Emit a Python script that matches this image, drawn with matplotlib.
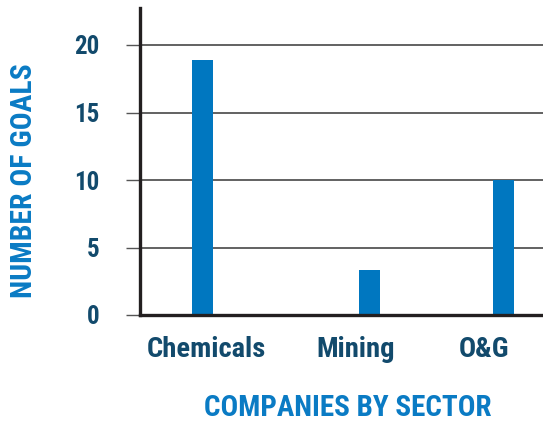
import matplotlib
matplotlib.use("Agg")
import matplotlib.pyplot as plt

# goals per sector
sectors = ["Chemicals", "Mining", "O&G"]
goals = [18.9, 3.3, 10]
yticks = [0, 5, 10, 15, 20]

plt.rcParams["font.family"] = ["Roboto Condensed", "Archivo Narrow", "DejaVu Sans"]

bar_blue = "#0077c0"
label_blue = "#0a7bc4"
tick_navy = "#124a6c"

# bars sit at uneven spots along the axis, labels slightly off-centre
bar_x = [0.625, 2.295, 3.635]
label_x = [0.66, 2.155, 3.443]

fig = plt.figure(figsize=(5.43, 4.24), dpi=100)
ax = fig.add_axes([140 / 543, 109 / 424, 403 / 543, 307 / 424])

ax.bar(bar_x, goals, width=0.21, color=bar_blue, zorder=3)

ax.set_xlim(0, 4.03)
ax.set_ylim(0, 307 / 13.5)
ax.set_yticks(yticks)
ax.yaxis.grid(True, color="#555555", linewidth=1.3, zorder=1)
ax.tick_params(axis="y", length=10, width=1.0, color="#555555", pad=19,
               labelsize=18, labelcolor=tick_navy)
for t in ax.get_yticklabels():
    t.set_fontweight("bold")

ax.set_xticks(label_x)
ax.set_xticklabels(sectors, fontsize=20.5, fontweight="bold", color=tick_navy)
ax.tick_params(axis="x", length=0, pad=15)

for side in ["top", "right"]:
    ax.spines[side].set_visible(False)
for side in ["left", "bottom"]:
    ax.spines[side].set_color("#231f20")
    ax.spines[side].set_linewidth(2.4)
    ax.spines[side].set_zorder(4)

fig.text(24 / 543, 1 - 181 / 424, "NUMBER OF GOALS", rotation=90, ha="center",
         va="center", fontsize=21.3, fontweight="bold", color=label_blue)
fig.text(348 / 543, 1 - 408 / 424, "COMPANIES BY SECTOR", ha="center",
         va="center", fontsize=21, fontweight="bold", color=label_blue)

fig.savefig("out.png", dpi=100)
